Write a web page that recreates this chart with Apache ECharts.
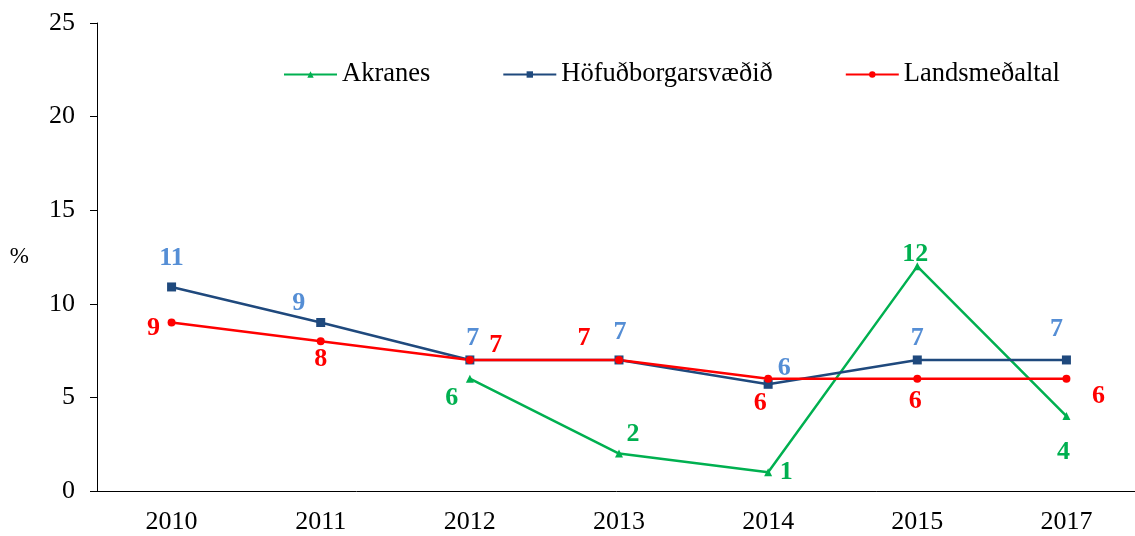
<!DOCTYPE html>
<html>
<head>
<meta charset="utf-8">
<script src="https://cdn.jsdelivr.net/npm/echarts@6/dist/echarts.min.js"></script>
<style>
  html, body { margin: 0; padding: 0; background: #fff; }
  #chart { width: 1135px; height: 536px; }
</style>
</head>
<body>
<div id="chart"></div>
<script>
const years = ['2010', '2011', '2012', '2013', '2014', '2015', '2017'];
const akranes = [null, null, 6, 2, 1, 12, 4];
const hofudborg = [10.9, 9, 7, 7, 5.7, 7, 7];
const landsmedaltal = [9, 8, 7, 7, 6, 6, 6];

// label offsets (px) from each point
const akranesOffsets = [null, null, [-18, 20], [14, -19], [18, 0], [-2, -12], [-3, 36]];
const hofOffsets = [[0, -29], [-22, -19], [3, -22], [1, -28], [16, -16], [0, -22], [-10, -31]];
const landOffsets = [[-18, 6], [0, 18], [26, -15], [-35, -22], [-8, 25], [-2, 23], [32, 18]];

const serif = '"Liberation Serif", "Times New Roman", serif';

function withLabels(values, offsets, color) {
  return values.map((v, i) => v == null ? null : {
    value: v,
    label: {
      show: true,
      position: 'inside',
      offset: offsets[i],
      formatter: p => Math.round(p.value),
      color: color,
      fontFamily: serif,
      fontWeight: 'bold',
      fontSize: 26
    }
  });
}

const chart = echarts.init(document.getElementById('chart'));
chart.setOption({
  animation: false,
  grid: { left: 97, width: 1044, top: 23, bottom: 45, outerBoundsMode: 'none', containLabel: false },
  legend: {
    left: 278,
    top: 56,
    itemWidth: 53,
    itemHeight: 8,
    itemGap: 72,
    textStyle: { fontFamily: serif, fontSize: 26.5, color: '#000' },
    data: ['Akranes', 'Höfuðborgarsvæðið', 'Landsmeðaltal']
  },
  xAxis: {
    type: 'category',
    data: years,
    axisLine: { lineStyle: { color: '#000', width: 1 } },
    axisTick: { length: 7, lineStyle: { color: '#000' } },
    axisLabel: { fontFamily: serif, fontSize: 26, color: '#000', margin: 18 }
  },
  yAxis: {
    type: 'value',
    min: 0,
    max: 25,
    interval: 5,
    name: '%',
    nameLocation: 'middle',
    nameRotate: 0,
    nameGap: 68,
    nameTextStyle: { fontFamily: serif, fontSize: 23, color: '#000' },
    splitLine: { show: false },
    axisLine: { show: true, lineStyle: { color: '#000', width: 1 } },
    axisTick: { show: true, length: 7, lineStyle: { color: '#000' } },
    axisLabel: { fontFamily: serif, fontSize: 26, color: '#000', margin: 22 }
  },
  series: [
    {
      name: 'Akranes',
      type: 'line',
      data: withLabels(akranes, akranesOffsets, '#00B050'),
      color: '#00B050',
      lineStyle: { width: 2.5 },
      symbol: 'triangle',
      symbolSize: 8,
      connectNulls: false
    },
    {
      name: 'Höfuðborgarsvæðið',
      type: 'line',
      data: withLabels(hofudborg, hofOffsets, '#558ED5'),
      color: '#1F497D',
      lineStyle: { width: 2.5 },
      symbol: 'rect',
      symbolSize: 9
    },
    {
      name: 'Landsmeðaltal',
      type: 'line',
      data: withLabels(landsmedaltal, landOffsets, '#FF0000'),
      color: '#FF0000',
      lineStyle: { width: 2.5 },
      symbol: 'circle',
      symbolSize: 8
    }
  ]
});
</script>
</body>
</html>
